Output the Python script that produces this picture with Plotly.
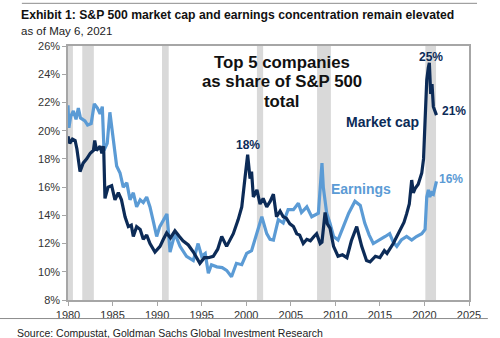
import plotly.graph_objects as go

# Top-5 share of S&P 500 market cap (%)
mc_years = [1980.0, 1980.2, 1980.5, 1980.8, 1981.0, 1981.35, 1981.7, 1982.1, 1982.5, 1982.85,
            1983.0, 1983.2, 1983.6, 1983.8, 1984.0, 1984.15, 1984.5, 1984.9, 1985.27, 1985.65,
            1986.0, 1986.4, 1986.77, 1987.1, 1987.33, 1987.7, 1988.1, 1988.45, 1988.83, 1989.2,
            1989.76, 1990.33, 1990.7, 1991.07, 1991.5, 1992.0, 1992.5, 1992.9, 1993.5, 1994.07,
            1994.8, 1995.3, 1995.75, 1996.3, 1996.8, 1997.25, 1997.8, 1998.2, 1998.55, 1999.1,
            1999.5, 1999.87, 2000.16, 2000.43, 2000.6, 2000.8, 2001.2, 2001.55, 2001.9, 2002.3,
            2002.7, 2003.05, 2003.4, 2003.8, 2004.15, 2004.5, 2004.9, 2005.3, 2005.67, 2006.0,
            2006.4, 2006.8, 2007.2, 2007.6, 2007.9, 2008.3, 2008.5, 2008.85, 2009.1, 2009.4,
            2009.8, 2010.3, 2010.8, 2011.3, 2011.8, 2012.4, 2012.96, 2013.5, 2013.9, 2014.5,
            2015.0, 2015.5, 2015.8, 2016.5, 2017.26, 2017.7, 2018.0, 2018.3, 2018.57, 2018.75,
            2018.95, 2019.3, 2019.7, 2019.9, 2020.07, 2020.26, 2020.44, 2020.55, 2020.7, 2020.85,
            2021.0, 2021.2, 2021.35]
mc_values = [19.6, 19.1, 19.4, 19.3, 18.7, 17.1, 17.7, 18.0, 18.4, 18.6,
             19.3, 18.6, 18.9, 18.4, 18.9, 15.2, 16.0, 16.1, 15.1, 15.6,
             15.1, 13.9, 13.2, 13.3, 12.5, 13.2, 13.0, 12.3, 12.6, 12.0,
             11.4, 11.8, 12.3, 12.75, 12.4, 12.9, 12.5, 12.2, 11.9, 11.4,
             10.6, 11.0, 11.0, 11.1, 11.6, 12.5, 11.8, 12.3, 12.7, 13.7,
             14.6, 16.7, 18.3, 16.6, 17.1, 15.3, 15.8, 14.8, 15.2, 14.6,
             15.0, 15.5, 13.9, 14.3, 13.9, 13.8, 13.4, 13.2, 12.7, 12.6,
             12.0, 12.3, 12.2, 12.5, 12.7, 12.0, 12.1, 14.2, 13.4, 13.1,
             11.8, 11.1, 11.2, 11.0, 12.2, 13.2, 11.8, 10.8, 10.7, 11.1,
             11.0, 11.5, 11.3, 12.0, 13.0, 13.5, 14.1, 14.8, 16.5, 15.6,
             15.9, 16.2, 17.0, 18.0, 20.7, 23.6, 24.5, 24.8, 22.6, 23.3,
             21.7, 21.3, 21.1]

# Top-5 share of S&P 500 earnings (%)
ea_years = [1980.0, 1980.1, 1980.3, 1980.6, 1980.9, 1981.16, 1981.4, 1981.9, 1982.2, 1982.6,
            1982.95, 1983.3, 1983.6, 1983.85, 1984.04, 1984.4, 1984.7, 1985.1, 1985.46, 1985.84,
            1986.2, 1986.6, 1986.96, 1987.33, 1987.7, 1988.1, 1988.45, 1988.83, 1989.2, 1989.6,
            1989.95, 1990.3, 1990.7, 1991.1, 1991.3, 1991.45, 1992.0, 1992.57, 1993.3, 1994.06,
            1994.6, 1995.0, 1995.4, 1995.75, 1996.1, 1996.7, 1997.3, 1997.8, 1998.35, 1998.9,
            1999.5, 2000.05, 2000.6, 2001.2, 2001.75, 2002.3, 2002.67, 2003.05, 2003.6, 2004.15,
            2004.7, 2005.3, 2005.85, 2006.2, 2006.8, 2007.35, 2008.1, 2008.5, 2008.65, 2009.03,
            2009.4, 2009.8, 2010.3, 2010.9, 2011.5, 2012.2, 2012.8, 2013.3, 2013.8, 2014.26,
            2015.0, 2015.6, 2016.1, 2016.5, 2016.9, 2017.4, 2018.0, 2018.57, 2019.1, 2019.7,
            2020.07, 2020.26, 2020.44, 2020.6, 2020.8, 2021.0, 2021.35]
ea_values = [21.8, 20.2, 21.0, 21.4, 20.8, 21.6, 20.9, 20.7, 20.4, 20.5,
             21.9, 21.6, 21.2, 21.7, 18.6, 19.1, 21.3, 19.3, 17.5, 17.0,
             16.0, 16.3, 15.1, 15.6, 14.6, 15.1, 14.9, 15.3, 14.6, 13.5,
             12.5, 13.2, 13.7, 14.1, 12.6, 11.4, 12.7, 11.8, 11.1, 10.8,
             12.0, 11.1, 11.3, 9.9, 10.5, 10.35, 10.3, 10.1, 9.65, 10.6,
             10.5, 11.3, 11.5, 12.7, 13.9, 12.7, 12.3, 12.25, 13.7, 13.45,
             14.4, 14.4, 14.85, 14.2, 14.6, 13.9, 14.15, 17.7, 16.0, 14.15,
             13.45, 12.5, 12.25, 13.2, 14.15, 15.0, 14.7, 13.45, 12.6, 12.0,
             12.25, 12.5, 12.7, 12.1, 11.8, 12.25, 12.5, 12.25, 12.5, 12.7,
             13.0, 15.3, 15.8, 15.3, 15.6, 15.5, 16.4]

# US recession periods (fractional years)
recessions = [(1980.0, 1980.55), (1981.6, 1982.9), (1990.55, 1991.3),
              (2001.2, 2001.9), (2007.95, 2009.5), (2020.1, 2021.3)]

y_ticks = [8, 10, 12, 14, 16, 18, 20, 22, 24, 26]
x_ticks = [1980, 1985, 1990, 1995, 2000, 2005, 2010, 2015, 2020, 2025]

# chart header lines, one annotation per line for tight spacing
header_lines = ["Top 5 companies", "as share of S&P 500", "total"]
header_y = [24.8, 23.45, 22.1]

NAVY = "#0c2b57"
LIGHT = "#5b9bd5"
FONT = "Arial, Liberation Sans, sans-serif"

fig = go.Figure()
fig.add_trace(go.Scatter(x=ea_years, y=ea_values, mode="lines",
                         line=dict(color=LIGHT, width=3.2), name="Earnings"))
fig.add_trace(go.Scatter(x=mc_years, y=mc_values, mode="lines",
                         line=dict(color=NAVY, width=3.2), name="Market cap"))

shapes = []
for a, b in recessions:
    shapes.append(dict(type="rect", xref="x", yref="paper", x0=a, x1=b, y0=0, y1=1,
                       fillcolor="#d9d9d9", line=dict(width=0), layer="below"))
# thin rules above the title and below the axis
shapes.append(dict(type="line", xref="paper", yref="paper", x0=-0.115, x1=1.02,
                   y0=1.168, y1=1.168, line=dict(color="#8c8c8c", width=1)))
shapes.append(dict(type="line", xref="paper", yref="paper", x0=-0.17, x1=1.047,
                   y0=-0.073, y1=-0.073, line=dict(color="#8c8c8c", width=1)))

annotations = [
    dict(text="<b>Exhibit 1: S&P 500 market cap and earnings concentration remain elevated</b>",
         xref="paper", yref="paper", x=-0.122, y=1.158, xanchor="left", yanchor="top",
         showarrow=False, font=dict(size=12.2, color="#111111", family=FONT)),
    dict(text="as of May 6, 2021", xref="paper", yref="paper", x=-0.122, y=1.09,
         xanchor="left", yanchor="top", showarrow=False,
         font=dict(size=11.5, color="#222222", family=FONT)),
    dict(text="Source: Compustat, Goldman Sachs Global Investment Research",
         xref="paper", yref="paper", x=-0.132, y=-0.098, xanchor="left", yanchor="top",
         showarrow=False, font=dict(size=10.5, color="#222222", family=FONT)),
    dict(text="<b>Market cap</b>", x=2015.24, y=20.64, showarrow=False,
         font=dict(size=14, color=NAVY, family=FONT)),
    dict(text="<b>Earnings</b>", x=2012.9, y=15.9, showarrow=False,
         font=dict(size=14, color=LIGHT, family=FONT)),
    dict(text="<b>18%</b>", x=2000.2, y=19.0, showarrow=False,
         font=dict(size=12, color=NAVY, family=FONT)),
    dict(text="<b>25%</b>", x=2020.7, y=25.25, showarrow=False,
         font=dict(size=12, color=NAVY, family=FONT)),
    dict(text="<b>21%</b>", x=2023.3, y=21.4, showarrow=False,
         font=dict(size=12, color=NAVY, family=FONT)),
    dict(text="<b>16%</b>", x=2022.95, y=16.6, showarrow=False,
         font=dict(size=12, color=LIGHT, family=FONT)),
]
for line, yv in zip(header_lines, header_y):
    annotations.append(dict(text=f"<b>{line}</b>", x=2004.0, y=yv, xanchor="center",
                            yanchor="middle", showarrow=False,
                            font=dict(size=16.8, color="#111111", family=FONT)))

fig.update_layout(
    width=500, height=338,
    margin=dict(l=68, r=31, t=46, b=38),
    paper_bgcolor="white", plot_bgcolor="white",
    showlegend=False,
    shapes=shapes, annotations=annotations,
    font=dict(family=FONT, size=11, color="#333333"),
    xaxis=dict(range=[1980, 2025], tickvals=x_ticks, ticktext=[str(t) for t in x_ticks],
               showgrid=False, zeroline=False, showline=True, linecolor="#a6a6a6",
               linewidth=1.5, mirror=True, ticks="outside", ticklen=4, tickcolor="#a6a6a6",
               tickfont=dict(size=11, color="#333333")),
    yaxis=dict(range=[8, 26], tickvals=y_ticks, ticktext=[f"{t}%" for t in y_ticks],
               showgrid=False, zeroline=False, showline=True, linecolor="#a6a6a6",
               linewidth=1.5, mirror=True, ticks="outside", ticklen=4, tickcolor="#a6a6a6",
               tickfont=dict(size=11, color="#333333")),
)

fig.write_html("out.html")
